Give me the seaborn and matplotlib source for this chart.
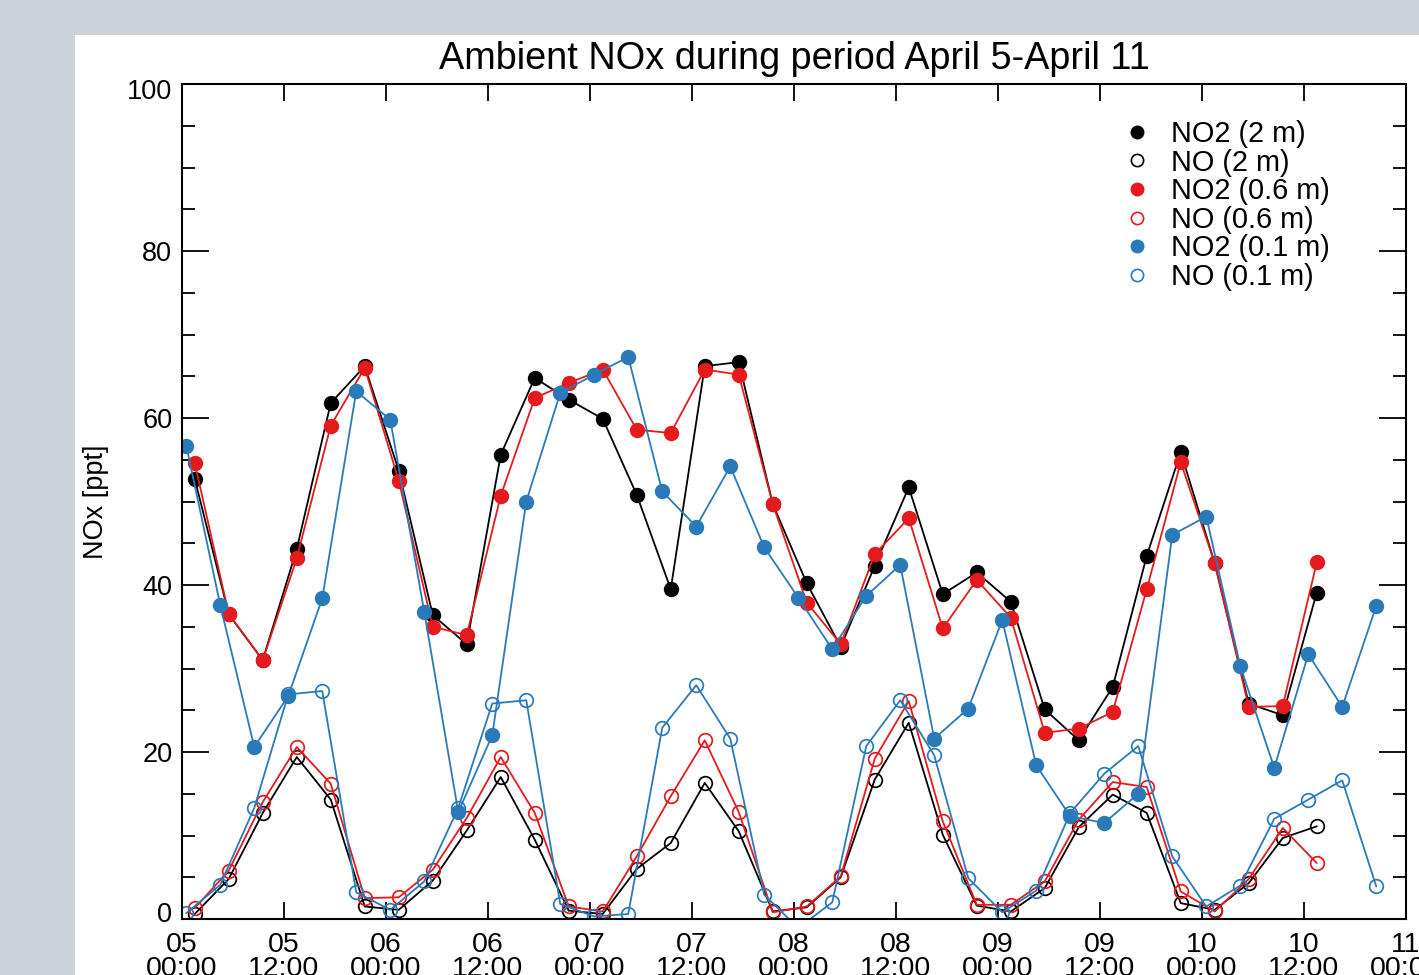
import matplotlib
matplotlib.use("Agg")
import matplotlib.pyplot as plt
from matplotlib.lines import Line2D
from matplotlib.patches import Rectangle
from matplotlib.transforms import ScaledTranslation
import pandas as pd
import seaborn as sns

# ---------------- data (hours since 05 April 00:00) ----------------
hours_upper = [1.5, 5.5, 9.5, 13.5, 17.5, 21.5, 25.5, 29.5, 33.5, 37.5, 41.5, 45.5,
               49.5, 53.5, 57.5, 61.5, 65.5, 69.5, 73.5, 77.5, 81.5, 85.5, 89.5, 93.5,
               97.5, 101.5, 105.5, 109.5, 113.5, 117.5, 121.5, 125.5, 129.5, 133.5]
hours_low = [0.5, 4.5, 8.5, 12.5, 16.5, 20.5, 24.5, 28.5, 32.5, 36.5, 40.5, 44.5,
             48.5, 52.5, 56.5, 60.5, 64.5, 68.5, 72.5, 76.5, 80.5, 84.5, 88.5, 92.5,
             96.5, 100.5, 104.5, 108.5, 112.5, 116.5, 120.5, 124.5, 128.5, 132.5,
             136.5, 140.5]

no2_2m = [52.7, 36.5, 31.0, 44.3, 61.8, 66.2, 53.7, 36.4, 32.9, 55.6, 64.8, 62.2,
          59.9, 50.8, 39.5, 66.2, 66.7, 49.7, 40.2, 32.6, 42.3, 51.7, 38.9, 41.5,
          38.0, 25.1, 21.4, 27.8, 43.5, 55.9, 42.6, 25.8, 24.4, 39.1]
no_2m = [0.6, 4.8, 12.7, 19.4, 14.3, 1.5, 1.1, 4.6, 10.6, 17.0, 9.5, 1.0,
         0.6, 6.0, 9.1, 16.3, 10.5, 0.9, 1.4, 5.0, 16.7, 23.5, 10.1, 1.6,
         0.9, 3.7, 11.0, 14.9, 12.7, 1.9, 1.1, 4.3, 9.7, 11.1]
no2_06m = [54.6, 36.5, 31.0, 43.2, 59.1, 66.0, 52.5, 35.0, 34.0, 50.7, 62.4, 64.2,
           65.8, 58.6, 58.2, 65.8, 65.2, 49.7, 37.9, 32.9, 43.7, 48.0, 34.8, 40.6,
           36.1, 22.3, 22.8, 24.8, 39.5, 54.7, 42.6, 25.4, 25.5, 42.7]
no_06m = [1.3, 5.8, 14.0, 20.6, 16.2, 2.5, 2.6, 5.9, 12.1, 19.4, 12.7, 1.5,
          0.9, 7.5, 14.7, 21.4, 12.8, 0.8, 1.5, 5.1, 19.2, 26.1, 11.7, 1.7,
          1.7, 4.5, 11.9, 16.4, 15.8, 3.3, 0.9, 4.8, 10.9, 6.7]
no2_01m = [56.7, 37.6, 20.6, 26.7, 38.4, 63.2, 59.8, 36.8, 12.8, 22.0, 50.0, 63.0,
           65.2, 67.3, 51.2, 47.0, 54.2, 44.5, 38.5, 32.3, 38.7, 42.4, 21.6, 25.2,
           35.8, 18.4, 12.3, 11.5, 15.0, 46.0, 48.2, 30.3, 18.1, 31.7, 25.4, 37.5]
no_01m = [0.7, 4.1, 13.3, 26.9, 27.3, 3.2, 1.1, 4.5, 13.3, 25.8, 26.2, 1.8,
          0.3, 0.6, 22.9, 28.0, 21.6, 2.9, -1.1, 2.0, 20.7, 26.2, 19.6, 4.9,
          0.8, 3.4, 12.7, 17.4, 20.7, 7.5, 1.5, 4.0, 12.0, 14.3, 16.6, 3.9]

xtick_hours = [0, 12, 24, 36, 48, 60, 72, 84, 96, 108, 120, 132, 144]
xtick_labels = ["05\n00:00", "05\n12:00", "06\n00:00", "06\n12:00", "07\n00:00",
                "07\n12:00", "08\n00:00", "08\n12:00", "09\n00:00", "09\n12:00",
                "10\n00:00", "10\n12:00", "11\n00:00"]
ytick_values = [0, 20, 40, 60, 80, 100]

series = [
    ("NO2 (2 m)", hours_upper, no2_2m, "black", True),
    ("NO (2 m)", hours_upper, no_2m, "black", False),
    ("NO2 (0.6 m)", hours_upper, no2_06m, "#e41a1c", True),
    ("NO (0.6 m)", hours_upper, no_06m, "#e41a1c", False),
    ("NO2 (0.1 m)", hours_low, no2_01m, "#2a7ab9", True),
    ("NO (0.1 m)", hours_low, no_01m, "#2a7ab9", False),
]

# ---------------- style ----------------
sns.set_style("ticks")
plt.rcParams["font.family"] = ["Liberation Sans", "DejaVu Sans"]
plt.rcParams["text.color"] = "black"
plt.rcParams["axes.labelcolor"] = "black"
plt.rcParams["xtick.color"] = "black"
plt.rcParams["ytick.color"] = "black"

W, H = 1419, 975
fig = plt.figure(figsize=(W / 100, H / 100), dpi=100)
fig.patch.set_facecolor("#cdd4d9")
panel = Rectangle((75 / W, 0), 1 - 75 / W, (H - 35) / H,
                  transform=fig.transFigure, facecolor="white",
                  edgecolor="none", zorder=-10)
fig.patches.append(panel)

ax = fig.add_axes([182 / W, (H - 919) / H, 1224 / W, 835 / H])
ax.set_zorder(1)
ax.set_facecolor("white")

handles = []
for label, tt, vals, col, filled in series:
    df = pd.DataFrame({"t": tt, "v": vals})
    sns.lineplot(data=df, x="t", y="v", ax=ax, color=col, lw=1.3,
                 marker="o", markersize=9.8,
                 markerfacecolor=col if filled else "none",
                 markeredgecolor=col, markeredgewidth=1.25,
                 estimator=None, sort=False, legend=False)
    handles.append(Line2D([], [], ls="none", marker="o", markersize=8.8,
                          markerfacecolor=col if filled else "none",
                          markeredgecolor=col, markeredgewidth=1.2, label=label))

ax.set_xlim(0, 144)
ax.set_ylim(0, 100)
ax.set_xticks(xtick_hours)
ax.set_xticklabels(xtick_labels)
ax.set_yticks(ytick_values)
ax.set_yticks(range(0, 101, 5), minor=True)
ax.set_xlabel("")
ax.set_ylabel("NOx [ppt]", fontsize=19.5, color="black")
ax.yaxis.set_label_coords(-0.06, 0.5)

for sp in ax.spines.values():
    sp.set_visible(True)
    sp.set_linewidth(1.5)
    sp.set_color("black")

ax.tick_params(axis="both", which="both", direction="in", top=True, right=True,
               colors="black", labelcolor="black", width=1.3)
ax.tick_params(axis="x", which="major", length=12.2, labelsize=20.5, pad=9)
ax.tick_params(axis="x", which="minor", length=0)
ax.tick_params(axis="y", which="major", length=19.4, labelsize=19.5, pad=7)
ax.tick_params(axis="y", which="minor", length=9.4)
for lab in ax.get_xticklabels():
    lab.set_linespacing(0.93)

# end labels of the y axis sit slightly inside the axis range
yticks = ax.yaxis.get_major_ticks()
lab0 = yticks[0].label1
lab0.set_transform(lab0.get_transform() + ScaledTranslation(0, 7 / 100, fig.dpi_scale_trans))
labN = yticks[-1].label1
labN.set_transform(labN.get_transform() + ScaledTranslation(0, -5 / 100, fig.dpi_scale_trans))

ax.set_title("Ambient NOx during period April 5-April 11", fontsize=27.3,
             pad=11, color="black")

ax.legend(handles=handles, loc="upper left",
          bbox_to_anchor=(1125 / W, 1 - 120 / H), bbox_transform=fig.transFigure,
          frameon=False, fontsize=20.8, handlelength=0.8, handletextpad=0.78,
          borderpad=0, labelspacing=0.02, borderaxespad=0)

fig.savefig("out.png", dpi=100, facecolor=fig.get_facecolor())
